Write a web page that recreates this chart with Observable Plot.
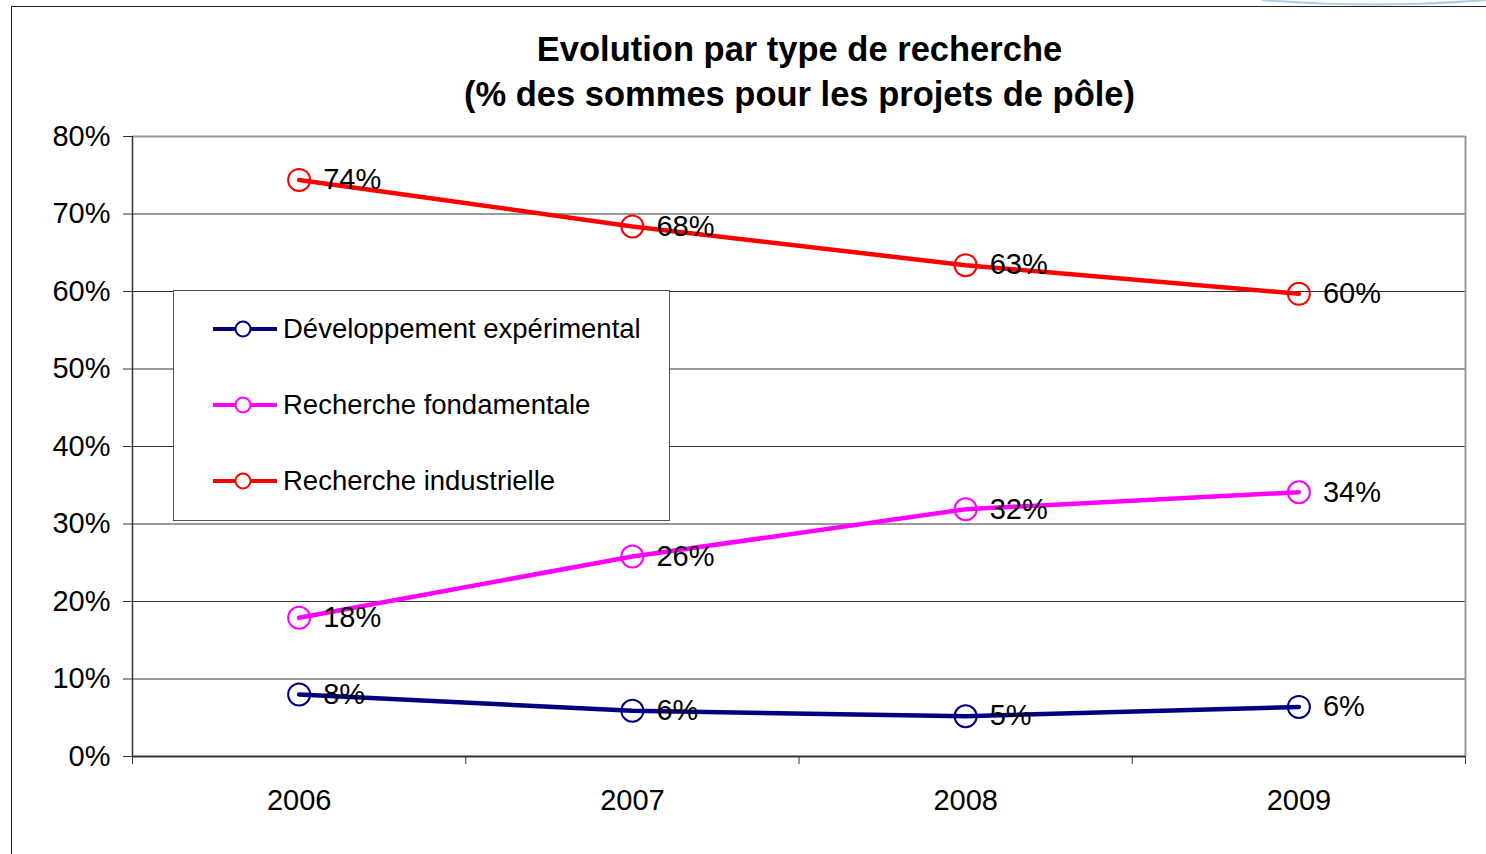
<!DOCTYPE html>
<html><head><meta charset="utf-8">
<script src="https://cdn.jsdelivr.net/npm/d3@7"></script>
<script src="https://cdn.jsdelivr.net/npm/@observablehq/plot@0.6"></script>
<style>
body{margin:0;background:#fff;font-family:"Liberation Sans",Arial,sans-serif;}
#wrap{position:relative;width:1486px;height:854px;overflow:hidden;background:#fff;}
#chart{position:absolute;left:0;top:0;}
#frameTop{position:absolute;left:12px;top:6px;width:1474px;height:0;border-top:1.5px solid #222;}
#frameLeft{position:absolute;left:11px;top:6px;width:0;height:848px;border-left:1.5px solid #222;}
#title{position:absolute;left:133px;width:1333px;top:27px;text-align:center;font-weight:bold;font-size:34.5px;line-height:45px;color:#000;}
#legend{position:absolute;left:173px;top:290px;width:495px;height:229px;border:1.5px solid #555;background:#fff;}
.item{position:absolute;left:39px;height:40px;display:flex;align-items:center;font-size:27.5px;color:#000;white-space:nowrap;}
.item svg{margin-right:6px;}
</style></head><body>
<div id="wrap">
  <div id="chart"></div>
  <svg style="position:absolute;left:1262px;top:0" width="224" height="10"><path d="M0,0 Q112,9 224,0" stroke="#b3cde0" fill="none" stroke-width="2"/></svg>
  <div id="frameTop"></div><div id="frameLeft"></div>
  <div id="title">Evolution par type de recherche<br>(% des sommes pour les projets de pôle)</div>
  <div id="legend"></div>
</div>
<script>
const years = [2006, 2007, 2008, 2009];
const yearBoundaries = [2005.5, 2006.5, 2007.5, 2008.5, 2009.5];
const yTicks = [0, 10, 20, 30, 40, 50, 60, 70, 80];
const seriesNames = ["Développement expérimental", "Recherche fondamentale", "Recherche industrielle"];
const seriesColors = ["#000080", "#FF00FF", "#FF0000"];
const devValues = [8.0, 5.9, 5.2, 6.4];
const fondValues = [17.9, 25.8, 31.9, 34.1];
const indusValues = [74.4, 68.4, 63.4, 59.7];
const seriesValues = [devValues, fondValues, indusValues];

const rows = [];
seriesNames.forEach((name, i) => years.forEach((yr, j) => rows.push({series: name, year: yr, value: seriesValues[i][j]})));

const plot = Plot.plot({
  width: 1486, height: 854,
  marginLeft: 132, marginRight: 21, marginTop: 136, marginBottom: 98,
  style: {fontFamily: '"Liberation Sans", Arial, sans-serif', fontSize: "29px", color: "#000", background: "transparent", overflow: "visible"},
  x: {type: "linear", domain: [2005.5, 2009.5], label: null},
  y: {domain: [0, 80], label: null},
  color: {domain: seriesNames, range: seriesColors},
  marks: [
    Plot.ruleY(yTicks.filter(t => t > 0 && t < 80), {stroke: "#333", strokeWidth: 1}),
    Plot.ruleY([80], {stroke: "#999", strokeWidth: 2}),
    Plot.ruleX([2009.5], {stroke: "#999", strokeWidth: 2}),
    Plot.ruleX([2005.5], {stroke: "#333", strokeWidth: 1.5}),
    Plot.ruleY([0], {stroke: "#333", strokeWidth: 2}),
    Plot.axisY(yTicks, {tickSize: 9, tickPadding: 13, tickFormat: d => d + "%", fontSize: 29, stroke: "#333", label: null}),
    Plot.axisX(yearBoundaries, {tickSize: 8, tickFormat: () => "", stroke: "#333", label: null}),
    Plot.axisX(years, {tickSize: 0, tickPadding: 33, tickFormat: d => String(d), fontSize: 29, label: null}),
    Plot.line(rows, {x: "year", y: "value", z: "series", stroke: "series", strokeWidth: 4.5}),
    Plot.dot(rows, {x: "year", y: "value", stroke: "series", r: 11, strokeWidth: 2, fill: "white", fillOpacity: 0}),
    Plot.text(rows, {x: "year", y: "value", text: d => Math.round(d.value) + "%", textAnchor: "start", dx: 24, fontSize: 29, fill: "#000"})
  ]
});
document.getElementById("chart").appendChild(plot);

const legend = document.getElementById("legend");
seriesNames.forEach((name, i) => {
  const it = document.createElement("div");
  it.className = "item";
  it.style.top = (18 + i * 76) + "px";
  it.innerHTML = `<svg width="64" height="20"><line x1="0" y1="10" x2="64" y2="10" stroke="${seriesColors[i]}" stroke-width="4"/><circle cx="30" cy="10" r="7.5" fill="white" stroke="${seriesColors[i]}" stroke-width="2"/></svg><span>${name}</span>`;
  legend.appendChild(it);
});
</script>
</body></html>
